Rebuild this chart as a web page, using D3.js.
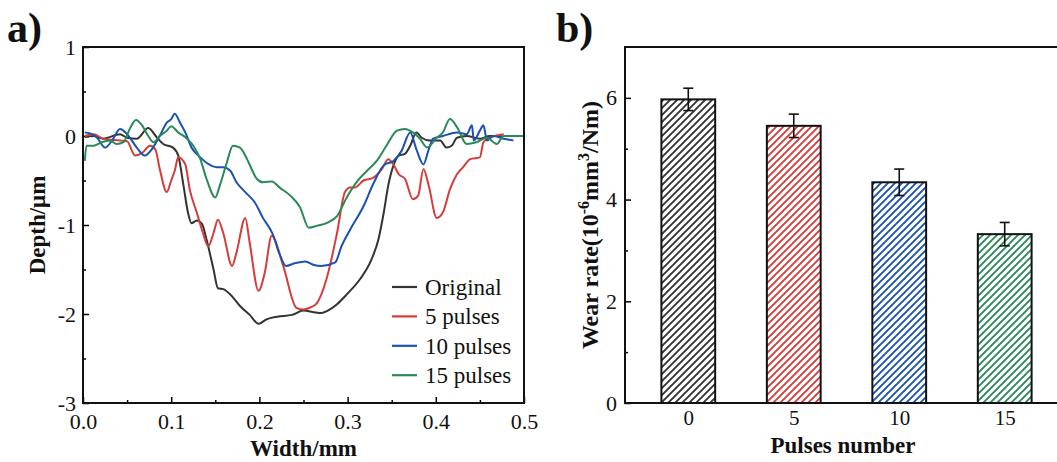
<!DOCTYPE html>
<html>
<head>
<meta charset="utf-8">
<script src="https://cdn.jsdelivr.net/npm/d3@7"></script>
<style>
  body { margin: 0; background: #fff; }
  text { font-family: "Liberation Serif", "Times New Roman", serif; fill: #111; }
</style>
</head>
<body>
<div id="Vis"></div>
<script>
// ---- panel a: depth profiles, [width (mm), depth (um)] ----
var original = [[0.002,-0.01],[0.012,0],[0.023,-0.03],[0.042,0.02],[0.05,-0.02],[0.061,-0.03],[0.074,0.09],[0.084,-0.02],[0.091,-0.09],[0.102,-0.13],[0.108,-0.22],[0.114,-0.56],[0.119,-0.86],[0.123,-0.98],[0.129,-0.95],[0.135,-0.99],[0.14,-1.16],[0.148,-1.5],[0.153,-1.71],[0.159,-1.72],[0.167,-1.78],[0.178,-1.91],[0.189,-2.01],[0.199,-2.11],[0.208,-2.06],[0.22,-2.03],[0.237,-2.01],[0.25,-1.96],[0.262,-1.98],[0.27,-1.99],[0.278,-1.96],[0.288,-1.89],[0.299,-1.78],[0.314,-1.61],[0.327,-1.39],[0.335,-1.16],[0.341,-0.86],[0.346,-0.56],[0.352,-0.33],[0.358,-0.22],[0.365,-0.2],[0.371,-0.11],[0.378,0.04],[0.384,-0.02],[0.393,-0.05],[0.405,-0.05],[0.412,-0.13],[0.418,-0.11],[0.424,-0.02],[0.435,0],[0.45,-0.03],[0.461,0],[0.475,0]];
var pulses5 = [[0.002,0],[0.012,0.02],[0.023,-0.03],[0.042,-0.05],[0.05,-0.06],[0.059,-0.22],[0.067,-0.19],[0.076,-0.11],[0.082,-0.15],[0.087,-0.37],[0.095,-0.63],[0.1,-0.5],[0.104,-0.39],[0.108,-0.24],[0.116,-0.32],[0.121,-0.6],[0.129,-0.86],[0.136,-1.09],[0.142,-1.24],[0.148,-1.09],[0.153,-0.94],[0.159,-1.09],[0.169,-1.46],[0.174,-1.31],[0.184,-0.92],[0.189,-1.2],[0.199,-1.74],[0.206,-1.54],[0.214,-1.12],[0.227,-1.46],[0.242,-1.93],[0.25,-1.95],[0.257,-1.93],[0.265,-1.88],[0.276,-1.61],[0.288,-1.09],[0.297,-0.63],[0.303,-0.58],[0.308,-0.58],[0.318,-0.5],[0.329,-0.47],[0.339,-0.37],[0.346,-0.26],[0.352,-0.32],[0.358,-0.43],[0.365,-0.48],[0.374,-0.71],[0.38,-0.67],[0.386,-0.37],[0.392,-0.56],[0.401,-0.92],[0.408,-0.86],[0.416,-0.6],[0.424,-0.43],[0.431,-0.35],[0.439,-0.26],[0.45,-0.24],[0.454,-0.07],[0.461,-0.02],[0.477,0.02]];
var pulses10 = [[0.002,0.04],[0.008,0.03],[0.016,-0.02],[0.025,-0.13],[0.033,-0.05],[0.042,0.08],[0.05,0.02],[0.061,-0.13],[0.07,-0.22],[0.078,-0.15],[0.087,0],[0.095,0.15],[0.1,0.19],[0.104,0.25],[0.11,0.15],[0.116,0.04],[0.123,-0.13],[0.133,-0.24],[0.14,-0.3],[0.152,-0.35],[0.159,-0.35],[0.167,-0.39],[0.174,-0.52],[0.184,-0.63],[0.195,-0.75],[0.204,-0.92],[0.215,-1.1],[0.223,-1.33],[0.23,-1.46],[0.24,-1.43],[0.252,-1.41],[0.262,-1.45],[0.27,-1.46],[0.286,-1.42],[0.293,-1.24],[0.303,-1.05],[0.318,-0.79],[0.329,-0.54],[0.341,-0.33],[0.352,-0.28],[0.361,-0.17],[0.371,0.04],[0.378,-0.15],[0.386,-0.32],[0.392,-0.15],[0.397,-0.03],[0.408,0],[0.424,0.04],[0.435,0.02],[0.441,0.12],[0.443,-0.05],[0.45,0.06],[0.454,0.12],[0.458,-0.05],[0.465,0],[0.477,-0.03],[0.488,-0.05]];
var pulses15 = [[0.002,-0.28],[0.004,-0.11],[0.012,-0.11],[0.021,-0.07],[0.031,-0.05],[0.038,-0.09],[0.046,-0.07],[0.053,0.08],[0.06,0.18],[0.067,0.12],[0.074,0],[0.08,-0.07],[0.087,0],[0.095,0.06],[0.1,0.11],[0.108,0.04],[0.118,-0.03],[0.125,-0.11],[0.133,-0.26],[0.14,-0.48],[0.15,-0.69],[0.155,-0.56],[0.163,-0.3],[0.17,-0.11],[0.178,-0.13],[0.186,-0.26],[0.197,-0.48],[0.204,-0.52],[0.214,-0.51],[0.223,-0.58],[0.235,-0.67],[0.246,-0.8],[0.256,-1.03],[0.265,-1.01],[0.278,-0.97],[0.288,-0.9],[0.299,-0.69],[0.31,-0.52],[0.322,-0.39],[0.333,-0.28],[0.344,-0.11],[0.356,0.06],[0.365,0.08],[0.374,0.04],[0.382,-0.03],[0.39,-0.13],[0.401,-0.02],[0.408,0.04],[0.416,0.19],[0.424,0.1],[0.435,-0.09],[0.446,-0.07],[0.458,-0.02],[0.469,-0.09],[0.477,0],[0.492,0],[0.5,0]];

var seriesNames = ["Original", "5 pulses", "10 pulses", "15 pulses"];
var seriesColors = ["#333333", "#d43d3a", "#1a52b0", "#2a8a57"];

var widthTicks = [0, 0.1, 0.2, 0.3, 0.4, 0.5];
var depthTicks = [-3, -2, -1, 0, 1];

// ---- panel b: wear rate ----
var pulseCats = [0, 5, 10, 15];
var wearRate = [5.97, 5.45, 4.34, 3.32];
var wearErr = [0.22, 0.23, 0.26, 0.23];
var wearTicks = [0, 2, 4, 6];

var svg = d3.select("#Vis")
  .append("svg")
    .attr("width", 1057)
    .attr("height", 462);

var defs = svg.append("defs");

// =================== panel a ===================
var pa = {left: 83, right: 524, top: 47, bottom: 403};

var xA = d3.scaleLinear().domain([0, 0.5]).range([pa.left, pa.right]);
var yA = d3.scaleLinear().domain([-3, 1]).range([pa.bottom, pa.top]);

defs.append("clipPath").attr("id", "clipA")
  .append("rect")
    .attr("x", pa.left).attr("y", pa.top)
    .attr("width", pa.right - pa.left).attr("height", pa.bottom - pa.top);

// minor ticks
svg.append("g")
  .attr("transform", "translate(0," + pa.bottom + ")")
  .call(d3.axisBottom(xA).tickValues([0.05, 0.15, 0.25, 0.35, 0.45]).tickSize(-3).tickSizeOuter(0).tickFormat(""))
  .call(function(g) { g.select(".domain").remove(); g.selectAll("line").attr("stroke-width", 1.5); });
svg.append("g")
  .attr("transform", "translate(" + pa.left + ",0)")
  .call(d3.axisLeft(yA).tickValues([-2.5, -1.5, -0.5, 0.5]).tickSize(-3).tickSizeOuter(0).tickFormat(""))
  .call(function(g) { g.select(".domain").remove(); g.selectAll("line").attr("stroke-width", 1.5); });

// major ticks + labels
svg.append("g")
  .attr("transform", "translate(0," + pa.bottom + ")")
  .call(d3.axisBottom(xA).tickValues(widthTicks).tickSize(-6).tickSizeOuter(0).tickPadding(10).tickFormat(d3.format(".1f")))
  .call(function(g) {
    g.select(".domain").remove();
    g.selectAll("line").attr("stroke-width", 1.5);
    g.selectAll("text").attr("font-size", "22px").attr("font-family", "Liberation Serif").attr("fill", "#111");
  });
svg.append("g")
  .attr("transform", "translate(" + pa.left + ",0)")
  .call(d3.axisLeft(yA).tickValues(depthTicks).tickSize(-6).tickSizeOuter(0).tickPadding(7).tickFormat(function(d) { return String(d); }))
  .call(function(g) {
    g.select(".domain").remove();
    g.selectAll("line").attr("stroke-width", 1.5);
    g.selectAll("text").attr("font-size", "22px").attr("font-family", "Liberation Serif").attr("fill", "#111");
  });

// lines
var lineA = d3.line()
  .x(function(d) { return xA(d[0]); })
  .y(function(d) { return yA(d[1]); })
  .curve(d3.curveMonotoneX);

var profiles = [original, pulses5, pulses10, pulses15];
svg.append("g")
  .attr("clip-path", "url(#clipA)")
  .selectAll("path")
  .data(profiles)
  .enter().append("path")
    .attr("fill", "none")
    .attr("stroke", function(d, i) { return seriesColors[i]; })
    .attr("stroke-width", 2)
    .attr("stroke-linejoin", "round")
    .attr("d", lineA);

// frame
svg.append("rect")
  .attr("x", pa.left).attr("y", pa.top)
  .attr("width", pa.right - pa.left).attr("height", pa.bottom - pa.top)
  .attr("fill", "none").attr("stroke", "#111").attr("stroke-width", 2);

// legend
var legend = svg.append("g").selectAll("g")
  .data(seriesNames)
  .enter().append("g")
    .attr("transform", function(d, i) { return "translate(392," + (287 + i * 29.4) + ")"; });
legend.append("line")
  .attr("x1", 0).attr("x2", 25)
  .attr("stroke", function(d, i) { return seriesColors[i]; })
  .attr("stroke-width", 2.2);
legend.append("text")
  .attr("x", 33).attr("dy", "0.35em")
  .attr("font-size", "23px")
  .text(function(d) { return d; });

// axis titles
svg.append("text")
  .attr("x", (pa.left + pa.right) / 2).attr("y", 456)
  .attr("text-anchor", "middle").attr("font-size", "23px").attr("font-weight", "bold")
  .text("Width/mm");
svg.append("text")
  .attr("transform", "translate(45," + ((pa.top + pa.bottom) / 2) + ") rotate(-90)")
  .attr("text-anchor", "middle").attr("font-size", "23px").attr("font-weight", "bold")
  .text("Depth/μm");

svg.append("text")
  .attr("x", 7).attr("y", 42)
  .attr("font-size", "42px").attr("font-weight", "bold")
  .text("a)");

// =================== panel b ===================
var pb = {left: 625, right: 1068, top: 47, bottom: 403};

var xB = d3.scaleLinear().domain([-3, 18]).range([pb.left, pb.right]);
var yB = d3.scaleLinear().domain([0, 7]).range([pb.bottom, pb.top]);
var barW = xB(2.55) - xB(0);

// hatch patterns
seriesColors.forEach(function(c, i) {
  var p = defs.append("pattern")
    .attr("id", "hatch" + i)
    .attr("patternUnits", "userSpaceOnUse")
    .attr("width", 7).attr("height", 7);
  p.append("rect").attr("width", 7).attr("height", 7).attr("fill", "#fff");
  p.append("path")
    .attr("d", "M-1,1 l2,-2 M0,7 l7,-7 M6,8 l2,-2")
    .attr("stroke", c).attr("stroke-width", 1.9);
});

// y ticks
svg.append("g")
  .attr("transform", "translate(" + pb.left + ",0)")
  .call(d3.axisLeft(yB).tickValues([1, 3, 5]).tickSize(-3).tickSizeOuter(0).tickFormat(""))
  .call(function(g) { g.select(".domain").remove(); g.selectAll("line").attr("stroke-width", 1.5); });
svg.append("g")
  .attr("transform", "translate(" + pb.left + ",0)")
  .call(d3.axisLeft(yB).tickValues(wearTicks).tickSize(-6).tickSizeOuter(0).tickPadding(8).tickFormat(d3.format("d")))
  .call(function(g) {
    g.select(".domain").remove();
    g.selectAll("line").attr("stroke-width", 1.5);
    g.selectAll("text").attr("font-size", "22px").attr("font-family", "Liberation Serif").attr("fill", "#111");
  });

// x labels
svg.append("g")
  .attr("transform", "translate(0," + pb.bottom + ")")
  .call(d3.axisBottom(xB).tickValues(pulseCats).tickSize(0).tickPadding(7).tickFormat(d3.format("d")))
  .call(function(g) {
    g.select(".domain").remove();
    g.selectAll("text").attr("font-size", "21px").attr("font-family", "Liberation Serif").attr("fill", "#111");
  });

// bars
svg.append("g").selectAll("rect")
  .data(pulseCats)
  .enter().append("rect")
    .attr("x", function(d) { return xB(d) - barW / 2; })
    .attr("y", function(d, i) { return yB(wearRate[i]); })
    .attr("width", barW)
    .attr("height", function(d, i) { return yB(0) - yB(wearRate[i]); })
    .attr("fill", function(d, i) { return "url(#hatch" + i + ")"; })
    .attr("stroke", "#111")
    .attr("stroke-width", 2);

// error bars
var err = svg.append("g").selectAll("g")
  .data(pulseCats)
  .enter().append("g")
    .attr("stroke", "#111").attr("stroke-width", 1.6);
err.append("line")
  .attr("x1", function(d) { return xB(d); }).attr("x2", function(d) { return xB(d); })
  .attr("y1", function(d, i) { return yB(wearRate[i] + wearErr[i]); })
  .attr("y2", function(d, i) { return yB(wearRate[i] - wearErr[i]); });
err.append("line")
  .attr("x1", function(d) { return xB(d) - 5; }).attr("x2", function(d) { return xB(d) + 5; })
  .attr("y1", function(d, i) { return yB(wearRate[i] + wearErr[i]); })
  .attr("y2", function(d, i) { return yB(wearRate[i] + wearErr[i]); });
err.append("line")
  .attr("x1", function(d) { return xB(d) - 5; }).attr("x2", function(d) { return xB(d) + 5; })
  .attr("y1", function(d, i) { return yB(wearRate[i] - wearErr[i]); })
  .attr("y2", function(d, i) { return yB(wearRate[i] - wearErr[i]); });

// frame (right side falls outside the picture)
svg.append("rect")
  .attr("x", pb.left).attr("y", pb.top)
  .attr("width", pb.right - pb.left).attr("height", pb.bottom - pb.top)
  .attr("fill", "none").attr("stroke", "#111").attr("stroke-width", 2);

// axis titles
svg.append("text")
  .attr("x", 843).attr("y", 453)
  .attr("text-anchor", "middle").attr("font-size", "23px").attr("font-weight", "bold")
  .text("Pulses number");

var yTitle = svg.append("text")
  .attr("transform", "translate(598," + ((pb.top + pb.bottom) / 2) + ") rotate(-90)")
  .attr("text-anchor", "middle").attr("font-size", "24px").attr("font-weight", "bold");
yTitle.append("tspan").text("Wear rate(10");
yTitle.append("tspan").attr("font-size", "16px").attr("dy", "-9").text("-6");
yTitle.append("tspan").attr("dy", "9").text("mm");
yTitle.append("tspan").attr("font-size", "16px").attr("dy", "-9").text("3");
yTitle.append("tspan").attr("dy", "9").text("/Nm)");

svg.append("text")
  .attr("x", 556).attr("y", 42)
  .attr("font-size", "42px").attr("font-weight", "bold")
  .text("b)");
</script>
</body>
</html>
